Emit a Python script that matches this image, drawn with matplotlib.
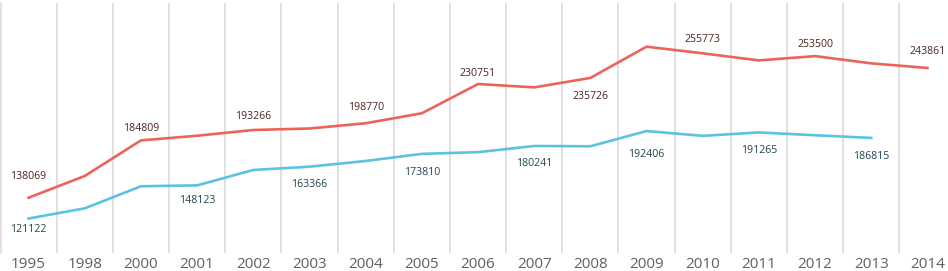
import matplotlib
matplotlib.use("Agg")
import matplotlib.pyplot as plt
import numpy as np

years = ["1995", "1998", "2000", "2001", "2002", "2003", "2004", "2005", "2006",
         "2007", "2008", "2009", "2010", "2011", "2012", "2013", "2014"]

red_values = [138069, 155800, 184809, 188600, 193266, 194500, 198770, 206900, 230751,
              228000, 235726, 261200, 255773, 250000, 253500, 247600, 243861]
blue_values = [121122, 129400, 147400, 148123, 160700, 163366, 168000, 173810, 175200,
               180241, 180000, 192406, 188500, 191265, 189000, 186815, np.nan]

# which points carry a data label
red_labeled = [0, 2, 4, 6, 8, 10, 12, 14, 16]
blue_labeled = [0, 3, 5, 7, 9, 11, 13, 15]

# label vertical offsets in pixels (positive = above)
red_offsets = {0: 21, 2: 12, 4: 14, 6: 16, 8: 11, 10: -19, 12: 14, 14: 12, 16: 16}
blue_offsets = {0: -11, 3: -15, 5: -18, 7: -19, 9: -18, 11: -23, 13: -18, 15: -19}

RED = "#EC6459"
BLUE = "#5BC3E0"
RED_TXT = "#4A2424"
BLUE_TXT = "#22444E"
GRID = "#D9D9D9"

W, H = 948, 271
fig = plt.figure(figsize=(W / 100, H / 100), dpi=100)
left_px, right_px, top_px, bottom_px = 0.5, 955.5, 3, 253
ax = fig.add_axes([left_px / W, 1 - bottom_px / H, (right_px - left_px) / W,
                   (bottom_px - top_px) / H])

x = np.arange(len(years))
ax.plot(x, red_values, color=RED, lw=1.9, solid_joinstyle="round", zorder=3)
ax.plot(x, blue_values, color=BLUE, lw=1.9, solid_joinstyle="round", zorder=3)

ax.set_xlim(-0.5, len(years) - 0.5)
ax.set_ylim(93000, 296800)

for b in np.arange(0.5, len(years) - 0.5, 1.0):
    ax.axvline(b, color=GRID, lw=1.1, zorder=1)

for s in ["top", "right", "bottom"]:
    ax.spines[s].set_visible(False)
ax.spines["left"].set_color(GRID)
ax.spines["left"].set_linewidth(1.1)

ax.set_yticks([])
ax.set_xticks(x)
ax.set_xticklabels(years, fontsize=11, color="#606060", family="Open Sans")
ax.tick_params(axis="x", length=0, pad=3)

for i in red_labeled:
    ax.annotate(f"{red_values[i]}", (x[i], red_values[i]),
                xytext=(0, red_offsets[i] * 0.72), textcoords="offset points",
                ha="center", va="center", fontsize=7.6, color=RED_TXT,
                family="Open Sans", zorder=4)
for i in blue_labeled:
    ax.annotate(f"{blue_values[i]}", (x[i], blue_values[i]),
                xytext=(0, blue_offsets[i] * 0.72), textcoords="offset points",
                ha="center", va="center", fontsize=7.6, color=BLUE_TXT,
                family="Open Sans", zorder=4)

fig.savefig("out.png", dpi=100)
